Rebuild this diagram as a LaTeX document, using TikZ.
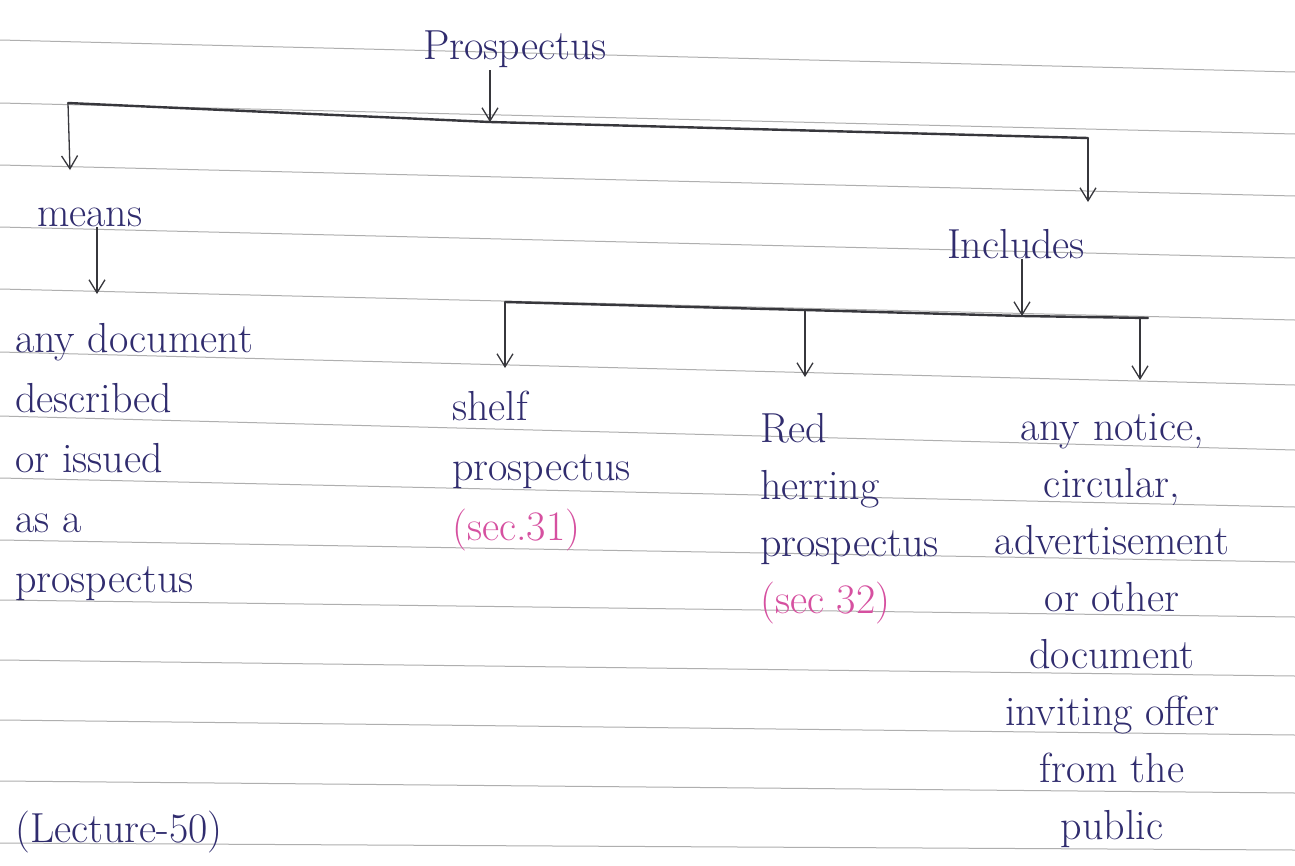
\documentclass[tikz,border=0pt]{standalone}
\usetikzlibrary{arrows.meta}
\definecolor{ink}{RGB}{48,44,110}
\definecolor{pinkink}{RGB}{214,80,160}
\definecolor{pen}{RGB}{55,55,60}
\definecolor{rulecol}{RGB}{175,175,175}
\tikzset{
  hw/.style={text=ink, font=\fontsize{42}{60}\selectfont, inner sep=0pt},
  hwtight/.style={text=ink, font=\fontsize{42}{57}\selectfont, inner sep=0pt},
  arr/.style={draw=pen, line width=1.3pt, -{Straight Barb[length=13pt,width=16pt]}},
  barline/.style={draw=pen, line width=2.4pt, line cap=round},
  ruling/.style={draw=rulecol, line width=1pt}
}
\begin{document}
\begin{tikzpicture}[x=1pt,y=-1pt]
\useasboundingbox (0,0) rectangle (1295,865);
\fill[white] (0,0) rectangle (1295,865);
% notebook rulings
\foreach \l/\r in {40/72,103/134,165/196,227/258,289/320,352/385,416/450,478/507,540/562,600/617,660/676,720/735,781/793,843/850}
  \draw[ruling] (0,\l) -- (1295,\r);

% texts
\node[hw, anchor=north] (prosp) at (515,31) {Prospectus};
\node[hw, anchor=north west] (means) at (37,208) {means};
\node[hw, anchor=north west] (incl) at (947,229) {Includes};
\node[hw, anchor=north west, align=left] (def) at (15,323)
  {any document\\described\\or issued\\as a\\prospectus};
\node[hw, anchor=north west, align=left] (shelf) at (452,391)
  {shelf\\prospectus\\\textcolor{pinkink}{(sec.31)}};
\node[hwtight, anchor=north west, align=left] (red) at (760,413)
  {Red\\herring\\prospectus\\\textcolor{pinkink}{(sec 32)}};
\node[hwtight, anchor=north, align=center] (notice) at (1112,413)
  {any notice,\\circular,\\advertisement\\or other\\document\\inviting offer\\from the\\public};
\node[hw, anchor=north west] (lect) at (15,811) {(Lecture-50)};

% first level bar
\coordinate (b1l) at (68,103);
\coordinate (b1m) at (490,122);
\coordinate (b1r) at (1088,138);
\draw[barline] (b1l) -- (b1m) -- (b1r);
\draw[arr] ([xshift=-25pt,yshift=-2pt]prosp.south) -- (b1m);
\coordinate (t1) at (70,170);
\coordinate (t2) at (1088,202);
\draw[arr] (b1l) -- (t1);
\draw[arr] (b1r) -- (t2);

% means -> definition
\coordinate (t3) at (97,294);
\draw[arr] ([xshift=60pt]means.south west) -- (t3);

% includes -> second bar
\coordinate (b2l) at (505,302);
\coordinate (b2m) at (1022,316);
\coordinate (b2c) at (805,310);
\coordinate (b2r) at (1148,318);
\draw[barline] (b2l) -- (b2c) -- (b2m) -- (b2r);
\draw[arr] ([xshift=75pt]incl.south west) -- (b2m);
\coordinate (t4) at (505,368);
\coordinate (t5) at (805,377);
\coordinate (t6) at (1140,380);
\draw[arr] (b2l) -- (t4);
\draw[arr] (b2c) -- (t5);
\draw[arr] ([xshift=-8pt]b2r) -- (t6);
\end{tikzpicture}
\end{document}
